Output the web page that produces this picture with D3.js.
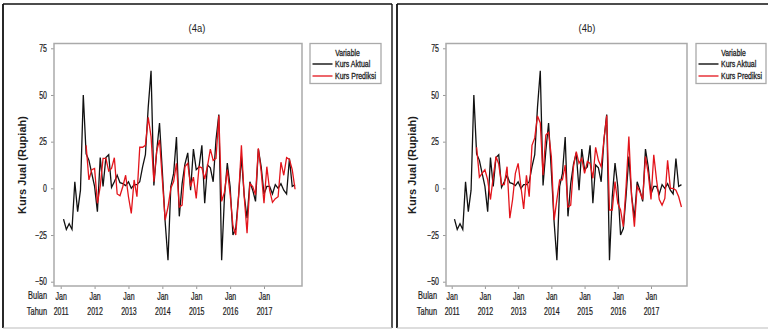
<!DOCTYPE html>
<html>
<head>
<meta charset="utf-8">
<script src="https://cdn.jsdelivr.net/npm/d3@7"></script>
<style>
body { margin: 0; background: #fff; }
svg { display: block; font-family: "Liberation Sans", Arial, sans-serif; }
</style>
</head>
<body>
<svg id="chart" width="768" height="330"></svg>
<script>
// monthly change of Kurs Jual, Feb 2011 .. Dec 2017 (index 1 = Feb 2011, 0 = Jan 2011)
const kursAktual = [
    -16.5, -22, -19, -22, 3.5, -12.5, -1, 50, 18.5, 15,
    8, 1, -12.5, 16.5, 1, 16.5, 18, 0.5, 3.5, 7,
    3, 2.5, 1.5, 3.5, 0, 2, 2, 3.5, 11.5, 18,
    43.5, 63, 1.5, 20, 35, 9, -18, -38.5, 1, 8,
    27.5, -15, 2.5, 13, 19, -1, 21, 10, 11.5, 23,
    -8, 12.5, 11, 3.5, 26, 39.5, -38.5, -4.5, 13.5, 1,
    -25, -21.5, -4, 17, -4, -16, 3.5, -1, -7, 21,
    11.5, -3, 1, 1, -3, 2, 0, 2.5, -1, -3,
    16, 1, 2
];
// predictions start at index 9 (Oct 2011)
const predStart = 9;
const prediksiA = [
    23, 4.5, 10, 10.7, -8, 1, 16, 16, 9.3, 10.7,
    16.4, -3, -4, 1, 7, -4.5, -13.4, 4.5, -4.5, 22,
    22, 23, 38, 27.7, 3.6, 20, 26, 4.5, -17, -10,
    0, 3.6, 13.4, -10, -9, 11.6, 13.4, 1, 6, -5.4,
    11.6, 11, 5, 12, 21, 15, 16, 39, -7, -2,
    10, -3, -20, -25, -4.5, 23, -4.5, -24, 2.6, 1,
    -3.5, 21.4, 9, -8, 11.6, -1, -7.5, -5.5, -4.5, 14,
    7, 16.5, 15.5, 10, -0.5
];
const prediksiB = [
    22, 6, 8, 10, 4.5, -6, 6, 17, 13, 2,
    2, 11.6, -16, -6, 8, 13.4, 1, -11, 7, -4.5,
    23, 27, 38.8, 35, 7, 28.6, 30, 17, -17, -6,
    4.5, 4.5, 12.5, -10, -9, 11.6, 19.6, 13.4, 16, 8,
    14.3, 13.4, 5.4, 22, 15, 11.6, 26, 39, -11.6, -11.6,
    3.6, -8, -11.6, -20.5, 1, 27.7, -4.5, -20.5, 1, -2,
    -6, 17, 8, -6, 18, 4.5, -6, -9, -5.4, 15,
    0, 0, -1, -4.5, -10
];

const yTicks = [-50, -25, 0, 25, 50, 75];
const janTicks = [0, 12, 24, 36, 48, 60, 72];
const yearLabels = ['2011', '2012', '2013', '2014', '2015', '2016', '2017'];
const seriesNames = ['Kurs Aktual', 'Kurs Prediksi'];
const seriesColors = ['#111111', '#e3141b'];
const yTitle = 'Kurs Jual (Rupiah)';
const TEXT_COL = '#1e1e1e';

const panels = [
    { title: '(4a)', pred: prediksiA, frame: [3, 4, 392, 328], titleX: 197,
      plot: [54, 43.5, 302, 286], jan0: 60.7, jan72: 264, yTitleX: 21.5, rowLabelX: 47,
      legend: [310, 43.5, 381, 83.5] },
    { title: '(4b)', pred: prediksiB, frame: [397, 4, 770, 328], titleX: 587,
      plot: [446, 43.5, 687, 286], jan0: 451.7, jan72: 651, yTitleX: 411.5, rowLabelX: 437,
      legend: [696, 43.5, 766, 83.5] }
];

const svg = d3.select('#chart');

function squishText(g, x, y, str, size, sx, anchor, weight) {
    return g.append('text')
        .attr('transform', `translate(${ x },${ y }) scale(${ sx },1)`)
        .attr('text-anchor', anchor)
        .attr('dominant-baseline', 'central')
        .attr('font-size', size)
        .attr('font-weight', weight || 'normal')
        .attr('fill', TEXT_COL)
        .text(str);
}

function styleAxisText(axisG) {
    axisG.selectAll('text')
        .attr('font-size', 10).attr('fill', TEXT_COL).attr('font-family', null)
        .attr('stroke', TEXT_COL).attr('stroke-width', 0.25)
        .attr('transform', 'scale(0.7,1)');
}

function drawPanel(p) {
    const g = svg.append('g');
    const [fx0, fy0, fx1, fy1] = p.frame;
    const [px0, py0, px1, py1] = p.plot;

    // outer frame
    g.append('line').attr('x1', fx0).attr('x2', fx0).attr('y1', fy0).attr('y2', fy1)
        .attr('stroke', '#111').attr('stroke-width', 1.8);
    g.append('line').attr('x1', fx0).attr('x2', fx1).attr('y1', fy0).attr('y2', fy0)
        .attr('stroke', '#111').attr('stroke-width', 1.4);
    g.append('line').attr('x1', fx1).attr('x2', fx1).attr('y1', fy0).attr('y2', fy1)
        .attr('stroke', '#111').attr('stroke-width', 1.4);
    g.append('line').attr('x1', fx0).attr('x2', fx1).attr('y1', fy1).attr('y2', fy1)
        .attr('stroke', '#bbb').attr('stroke-width', 1.2);

    squishText(g, p.titleX, 28, p.title, 11.5, 0.82, 'middle');

    const x = d3.scaleLinear().domain([0, 72]).range([p.jan0, p.jan72]);
    const y = d3.scaleLinear().domain([-50, 75]).range([281.7, 48.3]);

    // y axis
    const yAxis = g.append('g')
        .attr('transform', `translate(${ px0 },0)`)
        .call(d3.axisLeft(y).tickValues(yTicks).tickSize(3).tickPadding(7));
    yAxis.select('.domain').remove();
    yAxis.selectAll('line').attr('stroke', '#999');
    styleAxisText(yAxis);

    // x axis: ticks + "Jan" row
    const xAxis = g.append('g')
        .attr('transform', `translate(0,${ py1 })`)
        .call(d3.axisBottom(x).tickValues(janTicks).tickSize(3).tickPadding(3.5).tickFormat(() => 'Jan'));
    xAxis.select('.domain').remove();
    xAxis.selectAll('line').attr('stroke', '#999');
    styleAxisText(xAxis);

    // year row
    const yrAxis = g.append('g')
        .attr('transform', `translate(0,${ py1 })`)
        .call(d3.axisBottom(x).tickValues(janTicks).tickSize(0).tickPadding(21.5)
            .tickFormat((d, i) => yearLabels[i]));
    yrAxis.select('.domain').remove();
    styleAxisText(yrAxis);

    squishText(g, p.rowLabelX, 296, 'Bulan', 10, 0.74, 'end')
        .attr('stroke', TEXT_COL).attr('stroke-width', 0.25);
    squishText(g, p.rowLabelX, 311.5, 'Tahun', 10, 0.74, 'end')
        .attr('stroke', TEXT_COL).attr('stroke-width', 0.25);

    // y title
    g.append('text')
        .attr('transform', `translate(${ p.yTitleX },165) rotate(-90)`)
        .attr('text-anchor', 'middle')
        .attr('dominant-baseline', 'central')
        .attr('font-size', 11)
        .attr('font-weight', 'bold')
        .attr('fill', TEXT_COL)
        .text(yTitle);

    // plot frame
    g.append('rect')
        .attr('x', px0).attr('y', py0)
        .attr('width', px1 - px0).attr('height', py1 - py0)
        .attr('fill', 'none').attr('stroke', '#aaa').attr('stroke-width', 1.5);

    const line = d3.line().x(d => x(d.m)).y(d => y(d.v));
    const actual = kursAktual.map((v, i) => ({ m: i + 1, v: v }));
    const pred = p.pred.map((v, i) => ({ m: i + predStart, v: v }));

    g.append('path').datum(actual)
        .attr('d', line).attr('fill', 'none')
        .attr('stroke', seriesColors[0]).attr('stroke-width', 1.3);
    g.append('path').datum(pred)
        .attr('d', line).attr('fill', 'none')
        .attr('stroke', seriesColors[1]).attr('stroke-width', 1.3);

    // legend
    const [lx0, ly0, lx1, ly1] = p.legend;
    g.append('rect')
        .attr('x', lx0).attr('y', ly0)
        .attr('width', lx1 - lx0).attr('height', ly1 - ly0)
        .attr('fill', '#fff').attr('stroke', '#aaa').attr('stroke-width', 1.3);
    squishText(g, lx0 + 37.5, ly0 + 10, 'Variable', 8.5, 0.8, 'middle')
        .attr('stroke', TEXT_COL).attr('stroke-width', 0.3);
    seriesNames.forEach((name, i) => {
        const ly = ly0 + 20.5 + i * 12;
        g.append('line')
            .attr('x1', lx0 + 2.5).attr('x2', lx0 + 22.5)
            .attr('y1', ly).attr('y2', ly)
            .attr('stroke', i === 0 ? '#444' : seriesColors[i]).attr('stroke-width', i === 0 ? 1.8 : 1.3);
        squishText(g, lx0 + 25, ly, name, 8.5, 0.82, 'start')
            .attr('stroke', TEXT_COL).attr('stroke-width', 0.3);
    });
}

panels.forEach(drawPanel);
</script>
</body>
</html>
